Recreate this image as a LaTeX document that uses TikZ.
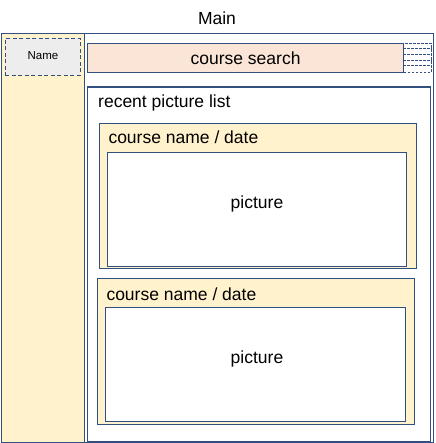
\documentclass[tikz,border=0pt]{standalone}
\usepackage{fontspec}
\setmainfont{Liberation Sans}
\definecolor{edge}{HTML}{31507F}
\definecolor{ylw}{HTML}{FFF2CC}
\definecolor{peach}{HTML}{FBE5D6}
\definecolor{lgray}{HTML}{EDEDED}
\tikzset{
  box/.style={draw=edge, line width=1.1pt, rectangle, inner sep=0pt, anchor=north west},
  dbox/.style={box, dashed, line width=0.9pt, dash pattern=on 2.5pt off 1.5pt},
  big/.style={font=\fontsize{17.5}{20}\selectfont, inner sep=0pt},
  small/.style={font=\fontsize{11.5}{13}\selectfont, inner sep=0pt},
}
\begin{document}
\begin{tikzpicture}[x=1pt,y=-1pt]
\useasboundingbox (0,0) rectangle (435,443);
% outer frame and sidebar
\node[box, minimum width=431.7pt, minimum height=409.2pt] (outer) at (0.8,32.8) {};
\node[box, fill=ylw, minimum width=83.2pt, minimum height=409.2pt] (side) at (0.8,32.8) {};
\node[box, minimum width=348.5pt, minimum height=409.2pt] (content) at (84,32.8) {};
\node[big] (title) at (217,18) {Main};
% name box
\node[dbox, fill=lgray, dash pattern=on 4pt off 2.5pt, minimum width=75pt, minimum height=37pt] (name) at (5,38) {};
\node[small] (namet) at ([yshift=1pt]name.center) {Name};
% course search
\node[box, fill=peach, minimum width=315.4pt, minimum height=29pt] (search) at (87.3,42.7) {};
\node[big] (searcht) at (search.center) {course search};
\node[dbox, fill=white, minimum width=27.4pt, minimum height=29pt] (menu) at (403.3,42.7) {};
\draw[edge, dashed, line width=0.9pt, dash pattern=on 2.5pt off 1.5pt]
  ([yshift=-5.8pt]menu.north west) -- ([yshift=-5.8pt]menu.north east)
  ([yshift=-11.6pt]menu.north west) -- ([yshift=-11.6pt]menu.north east)
  ([yshift=-17.4pt]menu.north west) -- ([yshift=-17.4pt]menu.north east)
  ([yshift=-23.2pt]menu.north west) -- ([yshift=-23.2pt]menu.north east);
% recent picture list
\node[box, fill=white, minimum width=342.7pt, minimum height=354pt] (recent) at (87.3,86.5) {};
\node[big, anchor=west] (recentt) at (98,103) {recent picture list};
% card 1
\node[box, fill=ylw, minimum width=316.2pt, minimum height=145.3pt] (card1) at (99.3,122.7) {};
\node[big, anchor=west] (card1t) at (108.3,137.5) {course name / date};
\node[box, fill=white, minimum width=298.2pt, minimum height=114pt] (pic1) at (107.3,151.7) {};
\node[big] (pic1t) at (257,203.5) {picture};
% card 2
\node[box, fill=ylw, minimum width=317pt, minimum height=145.7pt] (card2) at (97.3,278.3) {};
\node[big, anchor=west] (card2t) at (106.3,294) {course name / date};
\node[box, fill=white, minimum width=299.4pt, minimum height=114pt] (pic2) at (105.3,307.3) {};
\node[big] (pic2t) at (257,358.5) {picture};
\end{tikzpicture}
\end{document}
